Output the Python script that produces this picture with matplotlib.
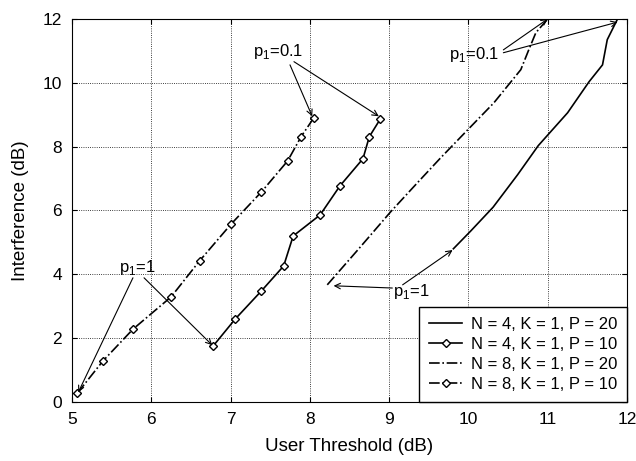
import matplotlib.pyplot as plt

plt.rcParams['font.family'] = ['Liberation Sans', 'DejaVu Sans']

# N = 4, K = 1, P = 20
x_n4_p20 = [9.81, 10.03, 10.31, 10.62, 10.88, 11.25, 11.52, 11.69, 11.75, 11.88]
y_n4_p20 = [4.8, 5.36, 6.1, 7.12, 8.03, 9.06, 10.03, 10.56, 11.35, 12.0]

# N = 4, K = 1, P = 10
x_n4_p10 = [6.78, 7.06, 7.39, 7.67, 7.79, 8.13, 8.38, 8.67, 8.75, 8.89]
y_n4_p10 = [1.75, 2.6, 3.48, 4.26, 5.2, 5.86, 6.77, 7.62, 8.31, 8.87]

# N = 8, K = 1, P = 20
x_n8_p20 = [8.22, 8.6, 9.02, 9.35, 9.65, 10.0, 10.32, 10.66, 10.76, 10.85, 11.0]
y_n8_p20 = [3.67, 4.75, 5.96, 6.85, 7.65, 8.55, 9.37, 10.41, 11.03, 11.57, 12.0]

# N = 8, K = 1, P = 10
x_n8_p10 = [5.07, 5.39, 5.77, 6.25, 6.61, 7.01, 7.39, 7.72, 7.89, 8.05]
y_n8_p10 = [0.28, 1.28, 2.28, 3.29, 4.42, 5.58, 6.58, 7.55, 8.31, 8.9]

fig = plt.figure(figsize=(6.36, 4.61), dpi=100)
ax = fig.add_axes([0.113, 0.128, 0.873, 0.831])

ax.plot(x_n4_p20, y_n4_p20, 'k-', lw=1.2, label='N = 4, K = 1, P = 20')
ax.plot(x_n4_p10, y_n4_p10, 'k-', lw=1.2, marker='D', ms=4.5, mfc='white', mew=1,
        label='N = 4, K = 1, P = 10')
ax.plot(x_n8_p20, y_n8_p20, 'k-.', lw=1.2, label='N = 8, K = 1, P = 20')
ax.plot(x_n8_p10, y_n8_p10, 'k-.', lw=1.2, marker='D', ms=4.5, mfc='white', mew=1,
        label='N = 8, K = 1, P = 10')

arrow = dict(arrowstyle='->', color='k', lw=0.8, shrinkA=0, shrinkB=0)
p01 = 'p$_{\\mathregular{1}}$=0.1'
p1 = 'p$_{\\mathregular{1}}$=1'

# left p1 = 0.1
ax.text(7.28, 10.97, p01, fontsize=12, va='center')
ax.annotate('', xy=(8.03, 8.95), xytext=(7.75, 10.56), arrowprops=arrow)
ax.annotate('', xy=(8.87, 8.95), xytext=(7.8, 10.66), arrowprops=arrow)

# right p1 = 0.1
ax.text(9.75, 10.88, p01, fontsize=12, va='center')
ax.annotate('', xy=(11.0, 12.0), xytext=(10.44, 11.03), arrowprops=arrow)
ax.annotate('', xy=(11.88, 11.9), xytext=(10.44, 10.94), arrowprops=arrow)

# left p1 = 1
ax.text(5.6, 4.2, p1, fontsize=12, va='center')
ax.annotate('', xy=(5.08, 0.3), xytext=(5.77, 3.89), arrowprops=arrow)
ax.annotate('', xy=(6.77, 1.78), xytext=(5.91, 3.89), arrowprops=arrow)

# right p1 = 1
ax.text(9.05, 3.45, p1, fontsize=12, va='center')
ax.annotate('', xy=(8.3, 3.64), xytext=(9.04, 3.57), arrowprops=arrow)
ax.annotate('', xy=(9.8, 4.76), xytext=(9.17, 3.67), arrowprops=arrow)

ax.set_xlim(5, 12)
ax.set_ylim(0, 12)
ax.set_xticks(range(5, 13))
ax.set_yticks(range(0, 13, 2))
ax.grid(True, color='k', linestyle=':', linewidth=0.6)
ax.tick_params(direction='in', top=True, right=True, labelsize=12.5, pad=7)
ax.set_xlabel('User Threshold (dB)', fontsize=13.5, labelpad=8)
ax.set_ylabel('Interference (dB)', fontsize=13.5, labelpad=10)

leg = ax.legend(loc='lower right', fontsize=12, fancybox=False, edgecolor='k',
                framealpha=1, borderaxespad=0, handlelength=2.0,
                labelspacing=0.3, borderpad=0.6, handletextpad=0.5)
leg.get_frame().set_linewidth(1)

fig.savefig('out.png', dpi=100)
